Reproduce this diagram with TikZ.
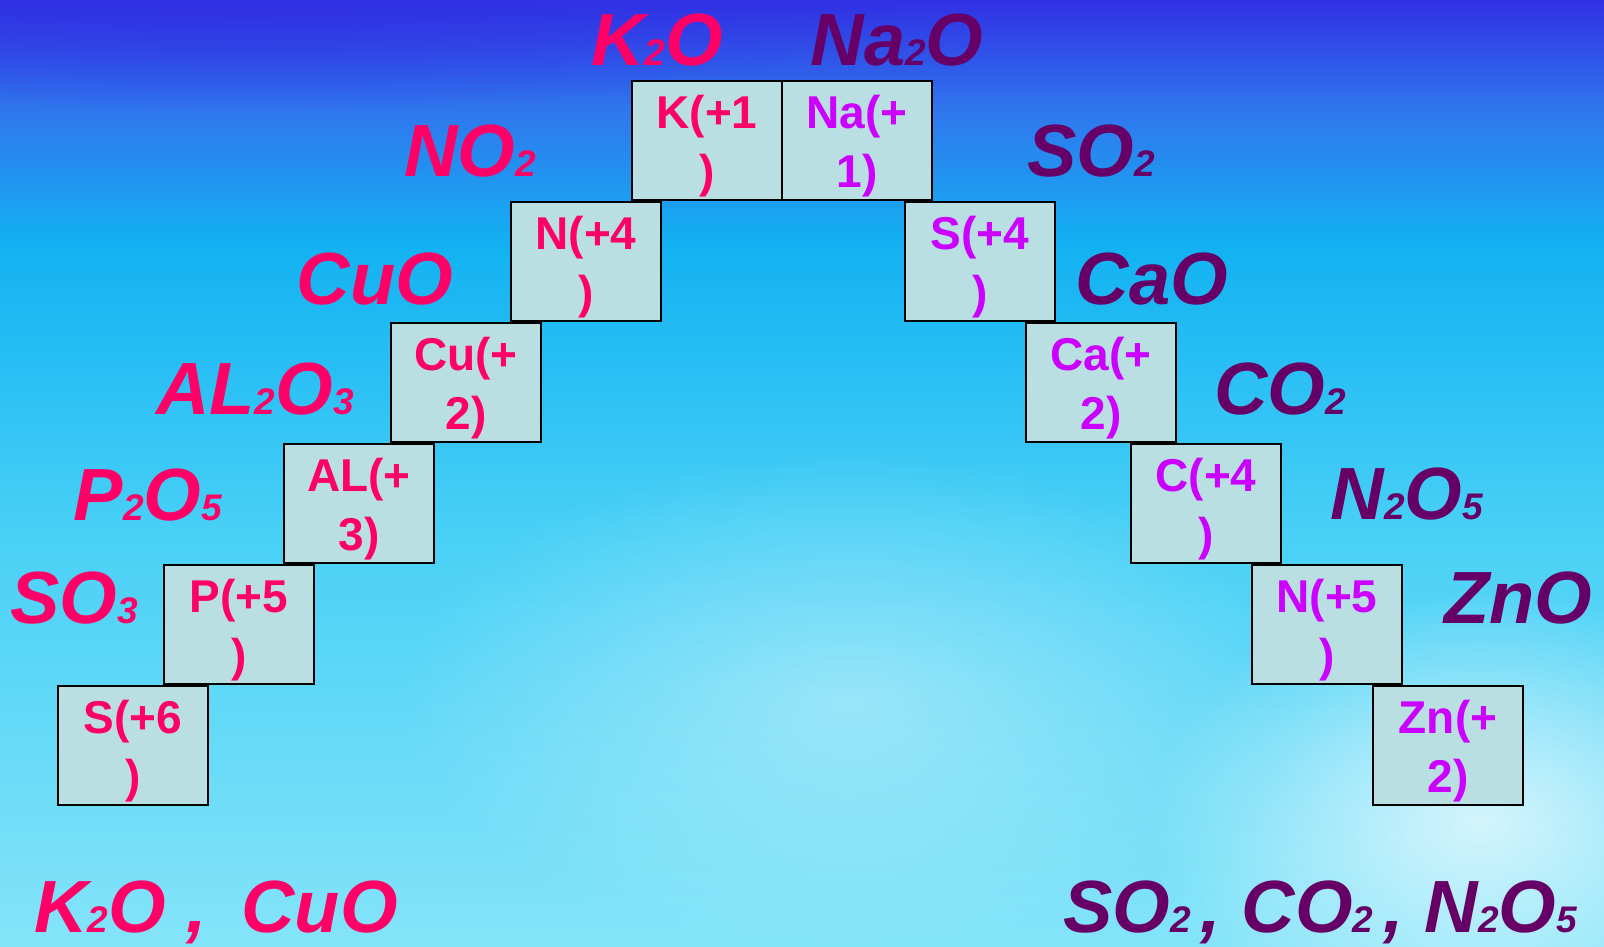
\documentclass[tikz,border=0pt]{standalone}
\usepackage{fontspec}
\setmainfont{Liberation Sans}
\usepackage{xcolor}
\definecolor{color1}{HTML}{FF0066}
\definecolor{color2}{HTML}{660066}
\definecolor{color3}{HTML}{CC00FF}
\definecolor{color4}{HTML}{B9DFE2}
\definecolor{sky1}{HTML}{3030E4}
\definecolor{sky2}{HTML}{2F78EE}
\definecolor{sky3}{HTML}{12B2F2}
\definecolor{sky4}{HTML}{48D0F6}
\definecolor{sky5}{HTML}{84E4F9}
\usepackage{tikz}
\usetikzlibrary{positioning,fadings}
\tikzfading[name=glow,inner color=transparent!0,outer color=transparent!100]
\newcommand{\dn}[1]{{\fontsize{37}{37}\selectfont #1}}
\pgfdeclareverticalshading{skybg}{100bp}{color(0bp)=(sky5); color(25bp)=(sky5); color(47bp)=(sky4); color(62bp)=(sky3); color(69bp)=(sky2); color(75bp)=(sky1); color(100bp)=(sky1)}

\begin{document}
\begin{tikzpicture}[x=1pt,y=-1pt,
    oxbox/.style={draw,line width=2.5pt,fill=color4,minimum width=150pt,minimum height=119pt,inner sep=0pt,outer sep=0pt,text height=106pt,text depth=13pt,align=center,anchor=north west,font=\fontsize{46}{59}\selectfont\bfseries},
    lbox/.style={oxbox,text=color1},
    rbox/.style={oxbox,text=color3},
    oxlab/.style={anchor=base,inner sep=0pt,font=\fontsize{74}{74}\selectfont\bfseries\itshape},
    llab/.style={oxlab,text=color1},
    rlab/.style={oxlab,text=color2}]
    % background
    \useasboundingbox (0,0) rectangle (1604,946);
    \shade[shading=skybg] (0,0) rectangle (1604,946);
    \fill[white,path fading=glow,opacity=0.7] (1480,820) ellipse (330 and 230);
    \fill[white,path fading=glow,opacity=0.35] (850,700) ellipse (450 and 250);
    \fill[sky1,path fading=glow,opacity=0.6] (250,0) ellipse (650 and 110);
    % left steps
    \node[lbox] (l1) at (632,81) {K(+1\\)};
    \node[rbox,right=0pt of l1] (r1) {Na(+\\1)};
    \node[lbox] (l2) at (511,202) {N(+4\\)};
    \node[lbox] (l3) at (391,323) {Cu(+\\2)};
    \node[lbox] (l4) at (284,444) {AL(+\\3)};
    \node[lbox] (l5) at (164,565) {P(+5\\)};
    \node[lbox] (l6) at (58,686) {S(+6\\)};
    % right steps
    \node[rbox] (r2) at (905,202) {S(+4\\)};
    \node[rbox] (r3) at (1026,323) {Ca(+\\2)};
    \node[rbox] (r4) at (1131,444) {C(+4\\)};
    \node[rbox] (r5) at (1252,565) {N(+5\\)};
    \node[rbox] (r6) at (1373,686) {Zn(+\\2)};
    % oxides
    \node[llab] (ol1) at (657,65) {K\dn{2}O};
    \node[rlab] (or1) at (897,65) {Na\dn{2}O};
    \node[llab] (ol2) at (470,176) {NO\dn{2}};
    \node[rlab] (or2) at (1091,176) {SO\dn{2}};
    \node[llab] (ol3) at (375,304) {CuO};
    \node[rlab] (or3) at (1152,304) {CaO};
    \node[llab] (ol4) at (255,414) {AL\dn{2}O\dn{3}};
    \node[rlab] (or4) at (1280,414) {CO\dn{2}};
    \node[llab] (ol5) at (148,520) {P\dn{2}O\dn{5}};
    \node[rlab] (or5) at (1407,519) {N\dn{2}O\dn{5}};
    \node[llab] (ol6) at (74,623) {SO\dn{3}};
    \node[rlab] (or6) at (1518,623) {ZnO};
    % answers
    \node[llab] (ansl) at (216,932) {K\dn{2}O , \hspace{14pt}CuO};
    \node[rlab] (ansr) at (1320,932) {SO\dn{2}\hspace{10pt}, CO\dn{2}\hspace{10pt}, N\dn{2}O\dn{5}};
\end{tikzpicture}
\end{document}
